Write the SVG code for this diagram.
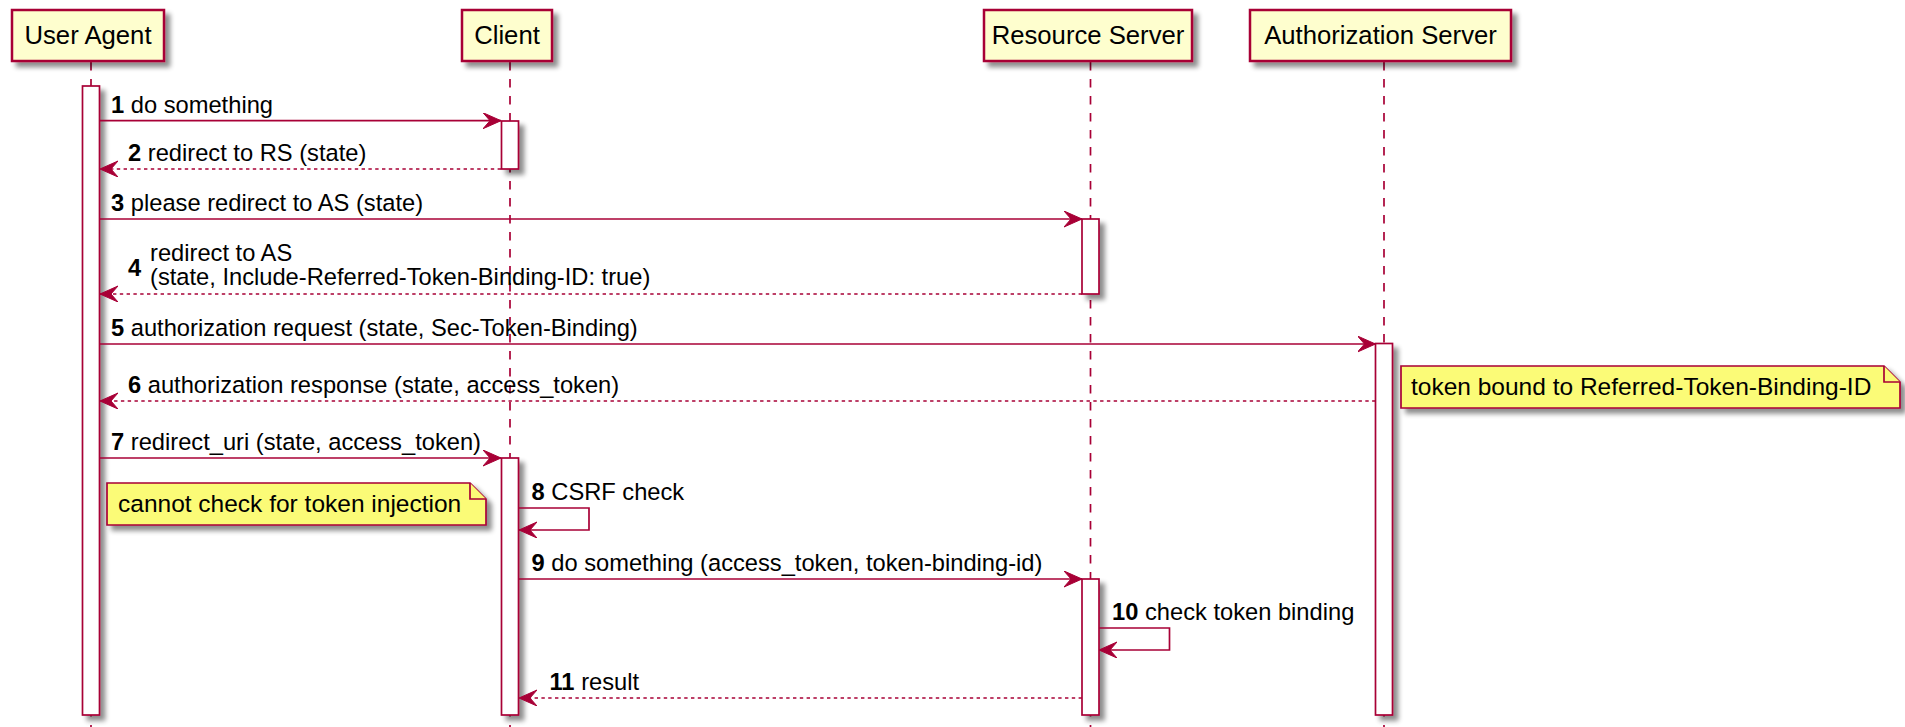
<svg xmlns="http://www.w3.org/2000/svg" width="1905" height="727" viewBox="0 0 1905 727">
<style>
text{font-family:"Liberation Sans",Arial,sans-serif;fill:#000}
.pt{font-size:25.7px;text-anchor:middle}
.m{font-size:23.7px}
.nt{font-size:24.5px}
.b{font-weight:bold}
.part{fill:#FEFECE;stroke:#A80036;stroke-width:2.5}
.life{stroke:#A80036;stroke-width:1.7;stroke-dasharray:8.5 8.5;fill:none}
.act{fill:#FFFFFF;stroke:#A80036;stroke-width:1.7}
.msg{stroke:#A80036;stroke-width:1.7;fill:none}
.ret{stroke:#A80036;stroke-width:1.7;fill:none;stroke-dasharray:3.4 3.4}
.note{fill:#FBFB77;stroke:#A80036;stroke-width:1.7}
</style>
<defs>
<filter id="sh" x="-50%" y="-20%" width="250%" height="150%">
<feGaussianBlur in="SourceAlpha" stdDeviation="2.5"/>
<feOffset dx="5" dy="5" result="o"/>
<feComponentTransfer><feFuncA type="linear" slope="0.45"/></feComponentTransfer>
<feMerge><feMergeNode/><feMergeNode in="SourceGraphic"/></feMerge>
</filter>
<marker id="ah" markerUnits="userSpaceOnUse" markerWidth="22" markerHeight="18" refX="18" refY="8" orient="auto">
<path d="M0,0 L18,8 L0,16 L7,8 Z" fill="#A80036" stroke="#A80036" stroke-width="1"/>
</marker>
</defs>
<rect width="1905" height="727" fill="#FFFFFF"/>

<g id="lifelines">
<line class="life" x1="91" y1="62" x2="91" y2="727"/>
<line class="life" x1="510" y1="62" x2="510" y2="727"/>
<line class="life" x1="1090.5" y1="62" x2="1090.5" y2="727"/>
<line class="life" x1="1384" y1="62" x2="1384" y2="727"/>
</g>

<g id="user-agent">
<rect class="part" x="12" y="10" width="152" height="51" filter="url(#sh)"/>
<text class="pt" x="88" y="44">User Agent</text>
<rect class="act" x="82.5" y="86" width="17" height="629" filter="url(#sh)"/>
</g>

<g id="client">
<rect class="part" x="462" y="10" width="90" height="51" filter="url(#sh)"/>
<text class="pt" x="507" y="44">Client</text>
<rect class="act" x="501.5" y="121" width="17" height="48" filter="url(#sh)"/>
<rect class="act" x="501.5" y="458" width="17" height="257" filter="url(#sh)"/>
</g>

<g id="resource-server">
<rect class="part" x="984" y="10" width="208" height="51" filter="url(#sh)"/>
<text class="pt" x="1088" y="44">Resource Server</text>
<rect class="act" x="1082" y="219" width="17" height="75" filter="url(#sh)"/>
<rect class="act" x="1082" y="579" width="17" height="136" filter="url(#sh)"/>
</g>

<g id="authorization-server">
<rect class="part" x="1250" y="10" width="261" height="51" filter="url(#sh)"/>
<text class="pt" x="1380.5" y="44">Authorization Server</text>
<rect class="act" x="1375.5" y="343.5" width="17" height="371.5" filter="url(#sh)"/>
</g>

<g id="connectors">
<line class="msg" x1="100" y1="120.7" x2="501" y2="120.7" marker-end="url(#ah)"/>
<text class="m" x="111" y="112.5"><tspan class="b">1</tspan> do something</text>

<line class="ret" x1="501" y1="169" x2="100" y2="169" marker-end="url(#ah)"/>
<text class="m" x="128" y="161"><tspan class="b">2</tspan> redirect to RS (state)</text>

<line class="msg" x1="100" y1="219" x2="1082" y2="219" marker-end="url(#ah)"/>
<text class="m" x="111" y="211"><tspan class="b">3</tspan> please redirect to AS (state)</text>

<line class="ret" x1="1082" y1="294" x2="100" y2="294" marker-end="url(#ah)"/>
<text class="m b" x="128" y="276">4</text>
<text class="m" x="150" y="261">redirect to AS</text>
<text class="m" x="150" y="285">(state, Include-Referred-Token-Binding-ID: true)</text>

<line class="msg" x1="100" y1="344" x2="1375.5" y2="344" marker-end="url(#ah)"/>
<text class="m" x="111" y="336"><tspan class="b">5</tspan> authorization request (state, Sec-Token-Binding)</text>

<line class="ret" x1="1375.5" y1="401" x2="100" y2="401" marker-end="url(#ah)"/>
<text class="m" x="128" y="393"><tspan class="b">6</tspan> authorization response (state, access_token)</text>

<line class="msg" x1="100" y1="458" x2="501" y2="458" marker-end="url(#ah)"/>
<text class="m" x="111" y="450"><tspan class="b">7</tspan> redirect_uri (state, access_token)</text>

<polyline class="msg" points="519,508 589,508 589,530 519,530" marker-end="url(#ah)"/>
<text class="m" x="531.5" y="500"><tspan class="b">8</tspan> CSRF check</text>

<line class="msg" x1="519" y1="579" x2="1082" y2="579" marker-end="url(#ah)"/>
<text class="m" x="531.5" y="571"><tspan class="b">9</tspan> do something (access_token, token-binding-id)</text>

<polyline class="msg" points="1099,628 1169.5,628 1169.5,650 1099,650" marker-end="url(#ah)"/>
<text class="m" x="1112" y="620"><tspan class="b">10</tspan> check token binding</text>

<line class="ret" x1="1082" y1="698" x2="519" y2="698" marker-end="url(#ah)"/>
<text class="m" x="549.5" y="690"><tspan class="b">11</tspan> result</text>
</g>

<g id="note-token-injection">
<path class="note" d="M107,483 L470,483 L486,499 L486,525 L107,525 Z" filter="url(#sh)"/>
<path class="note" d="M470,483 L470,499 L486,499" fill="none"/>
<text class="nt" x="118" y="512">cannot check for token injection</text>
</g>

<g id="note-token-bound">
<path class="note" d="M1401,366 L1884,366 L1900,382 L1900,408 L1401,408 Z" filter="url(#sh)"/>
<path class="note" d="M1884,366 L1884,382 L1900,382" fill="none"/>
<text class="nt" x="1411" y="395">token bound to Referred-Token-Binding-ID</text>
</g>
</svg>
